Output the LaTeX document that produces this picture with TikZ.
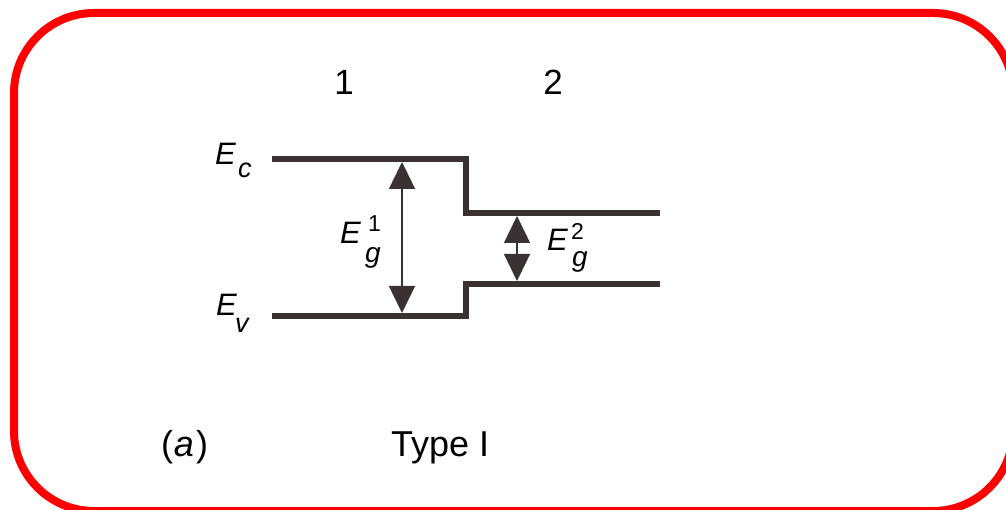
\documentclass[tikz,border=0pt]{standalone}
\usepackage{fontspec}
\setmainfont{Liberation Sans}
\usetikzlibrary{arrows.meta}
\definecolor{band}{RGB}{58,50,50}
\definecolor{framered}{RGB}{255,0,0}
\tikzset{
  lbl/.style={anchor=base west, inner sep=0pt, outer sep=0pt, text=black},
  bandline/.style={draw=band, line width=6pt, miter limit=10},
  gaparrow/.style={draw=band, line width=1.4pt, {Triangle[width=26pt,length=27pt,fill=band]}-{Triangle[width=26pt,length=27pt,fill=band]}, shorten <=0pt, shorten >=0pt}
}
\begin{document}
\begin{tikzpicture}[x=1pt,y=-1pt]
\useasboundingbox (0,0) rectangle (1006,510);
\clip (0,0) rectangle (1006,510);
% frame
\draw[framered, line width=8pt, rounded corners=80pt] (14,13) rectangle (1013,511);
% region labels
\node[anchor=base, inner sep=0pt] (n1) at (344,95) {\fontsize{35}{38}\selectfont 1};
\node[anchor=base, inner sep=0pt] (n2) at (553,95) {\fontsize{35}{38}\selectfont 2};
% bands
\coordinate (cL) at (272,159);
\coordinate (cS) at (466,159);
\coordinate (cD) at (466,213);
\coordinate (cR) at (660,213);
\coordinate (vL) at (272,316);
\coordinate (vS) at (466,316);
\coordinate (vU) at (466,284);
\coordinate (vR) at (660,284);
\draw[bandline] (cL) -- (cS) -- (cD) -- (cR);
\draw[bandline] (vL) -- (vS) -- (vU) -- (vR);
% gap arrows
\coordinate (a1t) at (402,162);
\coordinate (a1b) at (402,313);
\coordinate (a2t) at (517,216);
\coordinate (a2b) at (517,281);
\draw[gaparrow] (a1t) -- (a1b);
\draw[gaparrow] (a2t) -- (a2b);
% Ec, Ev
\node[lbl] (ecE) at (215,165) {\fontsize{31}{32}\selectfont\itshape E};
\node[lbl] (ecc) at (238,178) {\fontsize{27}{28}\selectfont\itshape c};
\node[lbl] (evE) at (216,316) {\fontsize{31}{32}\selectfont\itshape E};
\node[lbl] (evv) at (235,333) {\fontsize{27}{28}\selectfont\itshape v};
% Eg1
\node[lbl] (g1E) at (340,244) {\fontsize{31}{32}\selectfont\itshape E};
\node[lbl] (g1s) at (368,232) {\fontsize{23}{24}\selectfont 1};
\node[lbl] (g1g) at (365,263) {\fontsize{28}{28}\selectfont\itshape g};
% Eg2
\node[lbl] (g2E) at (547,251) {\fontsize{31}{32}\selectfont\itshape E};
\node[lbl] (g2s) at (571,240) {\fontsize{23}{24}\selectfont 2};
\node[lbl] (g2g) at (572,267) {\fontsize{28}{28}\selectfont\itshape g};
% captions
\node[lbl] (cap) at (161,456) {\fontsize{36}{38}\selectfont (\kern1pt\textit{a}\kern2pt)};
\node[lbl] (typ) at (391,456) {\fontsize{36}{38}\selectfont Type I};
\end{tikzpicture}
\end{document}
